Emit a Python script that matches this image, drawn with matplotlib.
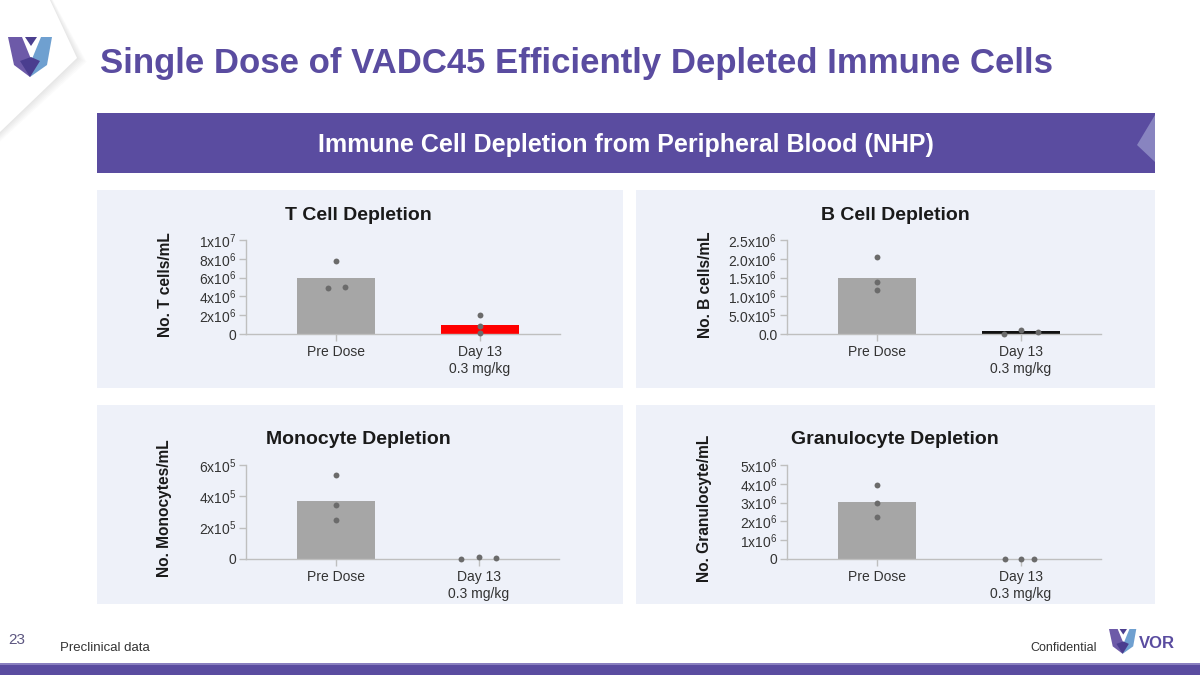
import numpy as np
import matplotlib.pyplot as plt
from matplotlib.patches import Rectangle, Polygon

plt.rcParams['font.family'] = ['Liberation Sans', 'DejaVu Sans']
plt.rcParams['mathtext.default'] = 'regular'

# ---- data ----
groups = ['Pre Dose', 'Day 13\n0.3 mg/kg']

t_mean = [5.96e6, 1.0e6]
t_pre = [7.8e6, 4.9e6, 5.05e6]
t_day13 = [2.05e6, 0.88e6, 0.14e6]
t_ticks = [0, 2e6, 4e6, 6e6, 8e6, 1e7]
t_labels = ['0', '2x10$^{6}$', '4x10$^{6}$', '6x10$^{6}$', '8x10$^{6}$', '1x10$^{7}$']

b_mean = [1.5e6, 0.07e6]
b_pre = [2.04e6, 1.39e6, 1.16e6]
b_day13 = [0.01e6, 0.105e6, 0.055e6]
b_ticks = [0, 5e5, 1e6, 1.5e6, 2e6, 2.5e6]
b_labels = ['0.0', '5.0x10$^{5}$', '1.0x10$^{6}$', '1.5x10$^{6}$', '2.0x10$^{6}$', '2.5x10$^{6}$']

m_mean = [3.72e5, 0.0]
m_pre = [5.36e5, 3.46e5, 2.52e5]
m_day13 = [0.02e5, 0.12e5, 0.04e5]
m_ticks = [0, 2e5, 4e5, 6e5]
m_labels = ['0', '2x10$^{5}$', '4x10$^{5}$', '6x10$^{5}$']

g_mean = [3.04e6, 0.0]
g_pre = [3.95e6, 2.99e6, 2.22e6]
g_day13 = [0.0, 0.0, 0.0]
g_ticks = [0, 1e6, 2e6, 3e6, 4e6, 5e6]
g_labels = ['0', '1x10$^{6}$', '2x10$^{6}$', '3x10$^{6}$', '4x10$^{6}$', '5x10$^{6}$']

W, H = 1200, 675
PURPLE = '#5a4ca0'
GREY_BAR = '#a6a6a6'
DOT = '#6b6b6b'
PANEL = '#eef1f9'
AXC = '#bfbfbf'


def px(x0, y0, x1, y1):
    return [x0 / W, 1 - y1 / H, (x1 - x0) / W, (y1 - y0) / H]


fig = plt.figure(figsize=(12, 6.75), dpi=100)
bg = fig.add_axes([0, 0, 1, 1])
bg.set_xlim(0, W)
bg.set_ylim(H, 0)
bg.axis('off')

# top-left logo tile, soft shadow made of a few faint layers
for k in range(6, 0, -1):
    d = k * 1.6
    bg.add_patch(Polygon([[50 + d * 0.3, 0], [77 + d, 58 + d * 0.4], [0, 132 + d], [0, 0]], closed=True,
                         facecolor='#000000', alpha=0.015, edgecolor='none', zorder=0))
bg.add_patch(Polygon([[50, 0], [77, 58], [0, 132], [0, 0]], closed=True,
                     facecolor='white', edgecolor='none', zorder=1))


def vlogo(x, y, s):
    pieces = [
        ([[0, 0], [14, 0], [23, 22], [22, 40], [6, 28]], '#6d5aa8'),
        ([[44, 0], [33, 0], [24, 22], [22, 40], [39, 28]], '#6fa0d0'),
        ([[12, 24], [22, 40], [32, 24], [23, 20]], '#4a3d8f'),
        ([[17, 0], [29, 0], [23, 9]], '#4b3f8f'),
    ]
    for pts, c in pieces:
        pts = np.array(pts, dtype=float) * s + [x, y]
        bg.add_patch(Polygon(pts, closed=True, facecolor=c, edgecolor='none', zorder=2))


vlogo(8, 37, 1.0)

bg.text(100, 63, 'Single Dose of VADC45 Efficiently Depleted Immune Cells',
        fontsize=25, fontweight='bold', color=PURPLE, ha='left', va='center')

# purple header band
bg.add_patch(Rectangle((97, 113), 1058, 60, facecolor=PURPLE, edgecolor='none', zorder=1))
bg.add_patch(Polygon([[1155, 115], [1137, 145], [1155, 162]], closed=True,
                     facecolor='#8884c0', edgecolor='none', zorder=2))
bg.text(626, 145, 'Immune Cell Depletion from Peripheral Blood (NHP)', fontsize=18,
        fontweight='bold', color='white', ha='center', va='center', zorder=3)

# panel backgrounds
panels = [(97, 190, 623, 388), (636, 190, 1155, 388), (97, 405, 623, 604), (636, 405, 1155, 604)]
for x0, y0, x1, y1 in panels:
    bg.add_patch(Rectangle((x0, y0), x1 - x0, y1 - y0, facecolor=PANEL, edgecolor='none', zorder=0))

charts = [
    dict(box=(246, 240, 560, 334), top=1e7, mean=t_mean, pre=t_pre, d13=t_day13,
         ticks=t_ticks, labels=t_labels, colors=[GREY_BAR, '#ff0000'],
         pre_off=[0, -0.058, 0.063], d13_off=[0, 0, 0],
         title='T Cell Depletion', ylab='No. T cells/mL', tx=358, ty=216, lx=165, ly=285),
    dict(box=(787, 240, 1101, 334), top=2.5e6, mean=b_mean, pre=b_pre, d13=b_day13,
         ticks=b_ticks, labels=b_labels, colors=[GREY_BAR, '#111111'],
         pre_off=[0, 0, 0], d13_off=[-0.116, 0, 0.123],
         title='B Cell Depletion', ylab='No. B cells/mL', tx=895, ty=216, lx=705, ly=285),
    dict(box=(246, 465, 559, 559), top=6e5, mean=m_mean, pre=m_pre, d13=m_day13,
         ticks=m_ticks, labels=m_labels, colors=[GREY_BAR, GREY_BAR],
         pre_off=[0, 0, 0], d13_off=[-0.128, 0, 0.117],
         title='Monocyte Depletion', ylab='No. Monocytes/mL', tx=358, ty=439, lx=165, ly=508),
    dict(box=(787, 465, 1101, 559), top=5e6, mean=g_mean, pre=g_pre, d13=g_day13,
         ticks=g_ticks, labels=g_labels, colors=[GREY_BAR, GREY_BAR],
         pre_off=[0, 0, 0], d13_off=[-0.109, 0, 0.095],
         title='Granulocyte Depletion', ylab='No. Granulocyte/mL', tx=895, ty=439, lx=705, ly=508),
]

for c in charts:
    ax = fig.add_axes(px(*c['box']))
    ax.set_facecolor('none')
    xs = np.arange(len(groups))
    ax.bar(xs, c['mean'], width=0.545, color=c['colors'], zorder=2)
    ax.scatter(np.array(c['pre_off']) + 0, c['pre'], s=18, color=DOT, zorder=3, linewidths=0)
    ax.scatter(np.array(c['d13_off']) + 1, c['d13'], s=18, color=DOT, zorder=3, linewidths=0,
               clip_on=False)
    ax.set_xlim(-0.63, 1.56)
    ax.set_ylim(0, c['top'])
    ax.set_yticks(c['ticks'])
    ax.set_yticklabels(c['labels'])
    ax.set_xticks(xs)
    ax.set_xticklabels(groups, linespacing=1.3)
    for s in ['top', 'right']:
        ax.spines[s].set_visible(False)
    for s in ['left', 'bottom']:
        ax.spines[s].set_color(AXC)
        ax.spines[s].set_linewidth(1)
    ax.tick_params(axis='y', length=5, width=1, color=AXC, labelsize=10, labelcolor='#333333', pad=2)
    ax.tick_params(axis='x', length=5, width=1, color=AXC, labelsize=10, labelcolor='#333333', pad=3)
    bg.text(c['tx'], c['ty'], c['title'], fontsize=14, fontweight='bold', color='#1a1a1a',
            ha='center', va='center')
    bg.text(c['lx'], c['ly'], c['ylab'], fontsize=11.2, fontweight='bold', color='#1a1a1a',
            ha='center', va='center', rotation=90)

# footer
bg.text(8, 640, '23', fontsize=11, color='#5c5680', ha='left', va='center')
bg.text(60, 648, 'Preclinical data', fontsize=9.5, color='#333333', ha='left', va='center')
bg.text(1097, 648, 'Confidential', fontsize=9, color='#333333', ha='right', va='center')
vlogo(1109, 629, 0.62)
bg.text(1139, 644, 'VOR', fontsize=12, fontweight='bold', color='#5a4ca0', ha='left', va='center')
bg.add_patch(Rectangle((0, 663), W, 12, facecolor=PURPLE, edgecolor='none', zorder=1))
bg.add_patch(Rectangle((0, 663), W, 1.5, facecolor='#8a80c0', edgecolor='none', zorder=2))

fig.savefig('out.png', dpi=100)
